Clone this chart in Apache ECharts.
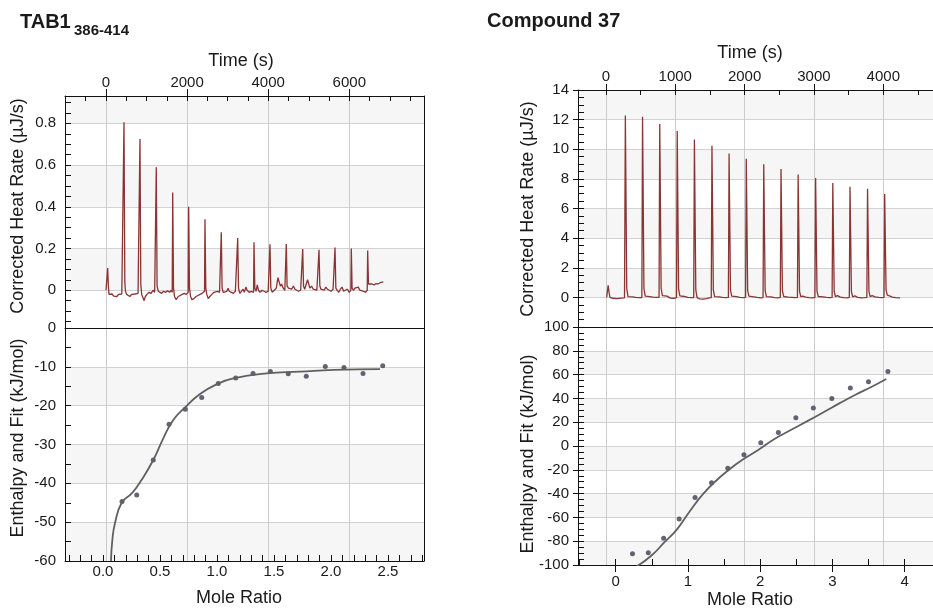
<!DOCTYPE html>
<html>
<head>
<meta charset="utf-8">
<script src="https://cdn.jsdelivr.net/npm/echarts@6/dist/echarts.min.js"></script>
<style>
html, body { margin: 0; padding: 0; background: #fff; }
#chart { width: 933px; height: 608px; }
</style>
</head>
<body>
<div id="chart"></div>
<script>
// thermogram, TAB1 386-414 : [time s, heat rate uJ/s]
var traceL = [
  [0,0.0],[30,0.0],[42,0.106],[58,0.02],[75,-0.02],[110,-0.025],[150,-0.018],[190,-0.028],[230,-0.022],[270,-0.03],[310,-0.02],[350,-0.025],[390,-0.018],[430,-0.015],
  [444,0.805],[464,0.04],[480,-0.005],[510,-0.02],[550,-0.015],[590,-0.03],[630,-0.02],[670,-0.025],[710,-0.018],[750,-0.022],[790,-0.015],[825,-0.01],
  [838,0.725],[858,0.03],[880,-0.02],[910,-0.035],[940,-0.05],[970,-0.03],[1010,-0.02],[1060,-0.01],[1110,-0.015],[1160,0.0],[1200,-0.01],[1228,-0.005],
  [1240,0.59],[1260,0.02],[1290,-0.005],[1330,-0.01],[1370,-0.015],[1420,-0.005],[1470,-0.01],[1520,-0.003],[1570,-0.01],[1610,0.0],[1633,-0.01],
  [1645,0.469],[1665,0.01],[1690,-0.03],[1730,-0.045],[1780,-0.03],[1830,-0.025],[1880,-0.02],[1930,-0.015],[1980,-0.02],[2027,-0.01],
  [2039,0.40],[2059,0.01],[2085,-0.03],[2120,-0.045],[2170,-0.04],[2220,-0.03],[2270,-0.025],[2320,-0.02],[2370,-0.015],[2410,-0.01],[2430,-0.005],
  [2441,0.34],[2461,0.01],[2485,-0.02],[2520,-0.04],[2560,-0.03],[2610,-0.02],[2660,-0.01],[2700,-0.015],[2750,-0.005],[2800,-0.01],[2832,-0.005],
  [2843,0.278],[2863,0.01],[2890,-0.01],[2930,-0.015],[2980,-0.005],[3010,0.01],[3040,-0.005],[3090,-0.01],[3140,-0.015],[3190,-0.005],[3237,-0.01],
  [3248,0.25],[3268,0.01],[3300,-0.015],[3340,-0.005],[3380,0.005],[3410,-0.01],[3450,0.015],[3480,0.0],[3530,-0.01],[3580,-0.005],[3639,-0.01],
  [3650,0.23],[3670,0.01],[3700,-0.005],[3730,0.026],[3760,0.0],[3800,-0.01],[3850,0.0],[3900,-0.005],[3950,-0.01],[4000,-0.005],[4033,0.0],
  [4044,0.22],[4064,0.01],[4100,-0.01],[4150,0.0],[4200,0.01],[4240,0.06],[4270,0.04],[4300,0.02],[4330,0.03],[4370,0.01],[4410,0.0],[4435,0.005],
  [4446,0.222],[4466,0.02],[4500,0.01],[4540,0.015],[4580,0.005],[4620,0.02],[4660,0.005],[4700,0.01],[4750,-0.005],[4800,0.0],[4840,0.005],
  [4851,0.197],[4871,0.02],[4900,0.005],[4930,0.01],[4970,0.05],[5000,0.03],[5030,0.01],[5070,0.02],[5110,0.005],[5150,0.01],[5200,0.0],[5242,0.005],
  [5253,0.194],[5273,0.02],[5300,0.005],[5340,0.01],[5380,0.0],[5420,0.015],[5460,0.005],[5500,0.01],[5550,-0.005],[5600,0.005],[5637,0.0],
  [5648,0.205],[5668,0.01],[5700,0.0],[5740,-0.01],[5780,0.005],[5820,0.015],[5860,-0.005],[5900,0.0],[5950,0.005],[6000,-0.01],[6038,0.0],
  [6049,0.20],[6069,0.01],[6100,0.0],[6140,0.01],[6180,0.005],[6220,0.015],[6260,0.0],[6300,0.005],[6350,-0.005],[6400,-0.01],[6442,0.0],
  [6453,0.19],[6473,0.03],[6510,0.025],[6560,0.03],[6610,0.025],[6660,0.032],[6710,0.03],[6760,0.036],[6800,0.038],[6838,0.04]
];

// thermogram, Compound 37
var traceR = [
  [10,0.0],[24,0.05],[32,0.82],[44,0.35],[58,0.0],[100,-0.06],[160,-0.08],[220,-0.05],[268,-0.03],
  [280,12.28],[300,0.6],[318,0.05],[345,0.12],[380,0.04],[430,0.0],[480,-0.02],[518,-0.01],
  [528,12.2],[548,0.6],[566,0.08],[590,0.15],[630,0.05],[680,0.02],[730,0.0],[766,0.0],
  [776,11.7],[796,0.6],[814,0.12],[840,0.2],[880,0.08],[930,-0.05],[980,-0.06],[1018,-0.02],
  [1028,11.23],[1048,0.55],[1066,0.1],[1090,0.16],[1130,0.06],[1180,0.0],[1230,-0.02],[1266,-0.02],
  [1276,10.65],[1296,0.5],[1314,-0.02],[1350,-0.1],[1400,-0.12],[1450,-0.08],[1490,-0.04],[1519,-0.02],
  [1529,10.24],[1549,0.5],[1567,0.05],[1590,0.1],[1630,0.03],[1680,0.0],[1730,-0.02],[1766,0.0],
  [1776,9.72],[1796,0.5],[1814,0.08],[1840,0.12],[1880,0.05],[1930,0.0],[1980,-0.02],[2014,0.0],
  [2024,9.35],[2044,0.45],[2062,0.08],[2090,0.12],[2130,0.04],[2180,0.0],[2230,-0.03],[2266,-0.01],
  [2276,8.99],[2296,0.45],[2314,0.05],[2340,0.1],[2380,0.03],[2430,-0.02],[2480,-0.03],[2515,0.0],
  [2525,8.67],[2545,0.45],[2563,0.06],[2590,0.1],[2630,0.02],[2680,0.0],[2730,-0.02],[2762,0.0],
  [2772,8.29],[2792,0.4],[2810,0.05],[2840,0.08],[2880,0.02],[2930,-0.02],[2980,-0.03],[3014,0.0],
  [3024,8.06],[3044,0.4],[3062,0.06],[3090,0.1],[3130,0.03],[3180,0.0],[3230,-0.02],[3262,0.0],
  [3272,7.72],[3292,0.4],[3310,0.05],[3340,0.12],[3380,0.02],[3430,-0.02],[3480,-0.03],[3510,0.0],
  [3520,7.47],[3540,0.4],[3558,0.04],[3590,0.1],[3630,0.0],[3680,-0.03],[3730,-0.02],[3763,0.0],
  [3773,7.34],[3793,0.4],[3811,0.05],[3840,0.12],[3880,0.04],[3930,0.0],[3980,-0.02],[4010,0.0],
  [4020,6.98],[4040,0.5],[4058,0.15],[4090,0.1],[4130,0.02],[4180,-0.02],[4240,-0.04]
];

// integrated heats (kJ/mol) vs mole ratio
var ratioL = [0.167, 0.296, 0.441, 0.579, 0.722, 0.866, 1.011, 1.164, 1.316, 1.468, 1.625, 1.783, 1.95, 2.114, 2.281, 2.454];
var heatL  = [-44.7, -43.0, -34.0, -24.8, -20.9, -17.9, -14.3, -12.9, -11.7, -11.2, -11.8, -12.4, -9.9, -10.2, -11.7, -9.7];
var fitL = [[0.07,-60],[0.082,-54.6],[0.105,-50.3],[0.164,-45],[0.252,-42.6],[0.339,-39.1],[0.441,-34],[0.529,-28.4],
  [0.617,-23.7],[0.722,-20.4],[0.851,-17.0],[0.997,-14.5],[1.143,-13.0],[1.436,-11.7],[1.728,-11.25],[2.02,-10.8],[2.43,-10.6]];

var ratioR = [0.233, 0.452, 0.664, 0.879, 1.099, 1.327, 1.552, 1.776, 2.009, 2.252, 2.494, 2.736, 2.992, 3.248, 3.499, 3.768];
var heatR  = [-90.5, -89.7, -77.6, -61.4, -43.2, -30.8, -18.8, -7.3, 2.8, 11.4, 23.8, 31.9, 40.0, 48.7, 54.0, 62.7];
var fitR = [[0.269,-102],[0.493,-92.2],[0.673,-81],[0.852,-69.8],[1.031,-54.4],[1.211,-40.3],[1.39,-29.2],[1.569,-19.9],
  [1.75,-11.8],[1.973,-3.4],[2.198,5.9],[2.423,13.4],[2.646,20.7],[2.871,28.2],[3.096,35.8],[3.319,43.1],[3.544,49.8],[3.746,56.3]];

var FONT = '"Liberation Sans", Arial, sans-serif';
var INK = '#1a1a1a';
var GRIDC = '#cccccc';
var BAND = '#f6f6f6';

function zip(a, b) {
  return a.map(function (v, i) { return [v, b[i]]; });
}

// bare axis, things get switched on per use
function ax(o) {
  var base = {
    type: 'value',
    axisLine: { show: false, onZero: false },
    axisTick: { show: false },
    axisLabel: { show: false },
    splitLine: { show: false },
    splitArea: { show: false }
  };
  return Object.assign(base, o);
}
var line = { show: true, onZero: false, lineStyle: { color: '#111', width: 1 } };
function tick(inside, len) {
  return { show: true, inside: inside, length: len, lineStyle: { color: '#111', width: 1 } };
}
function lab(margin, fmt) {
  var l = { show: true, margin: margin, color: INK, fontSize: 15, fontFamily: FONT,
    showMinLabel: false, showMaxLabel: false };
  if (fmt) l.formatter = fmt;
  return l;
}
function plain(v) { return String(v); }
var vsplit = { show: true, lineStyle: { color: GRIDC, width: 1 } };
var hsplit = { show: true, lineStyle: { color: '#d2d2d2', width: 1 } };

var option = {
  animation: false,
  backgroundColor: '#fff',
  grid: [
    { left: 65, top: 96, width: 359, height: 232 },
    { left: 65, top: 328, width: 359, height: 233 },
    { left: 578, top: 90, width: 365, height: 237 },
    { left: 578, top: 327, width: 365, height: 238 }
  ],
  xAxis: [
    ax({ gridIndex: 0, position: 'top', min: -1011, max: 7842, minInterval: 2000, maxInterval: 2000,
      axisLine: line, axisTick: tick(false, 7), axisLabel: lab(6, plain), splitLine: vsplit }),
    ax({ gridIndex: 0, position: 'top', min: -1011, max: 7842, minInterval: 500, maxInterval: 500,
      axisTick: tick(true, 5) }),
    ax({ gridIndex: 0, position: 'bottom', min: 0, max: 1, axisLine: line }),
    ax({ gridIndex: 1, position: 'bottom', min: -1011, max: 7842, minInterval: 2000, maxInterval: 2000,
      axisLine: line, splitLine: vsplit }),
    ax({ gridIndex: 1, position: 'bottom', min: -0.3333, max: 2.8158, minInterval: 0.5, maxInterval: 0.5,
      axisLabel: lab(3, function (v) { return v.toFixed(1); }) }),
    ax({ gridIndex: 1, position: 'bottom', min: -0.3333, max: 2.8158, minInterval: 0.1, maxInterval: 0.1,
      axisTick: tick(true, 6) }),
    ax({ gridIndex: 2, position: 'top', min: -403, max: 4717, minInterval: 1000, maxInterval: 1000,
      axisLine: line, axisTick: tick(false, 6), axisLabel: lab(6, plain), splitLine: vsplit }),
    ax({ gridIndex: 2, position: 'top', min: -403, max: 4717, minInterval: 500, maxInterval: 500,
      axisTick: tick(true, 5) }),
    ax({ gridIndex: 3, position: 'bottom', min: -403, max: 4717, minInterval: 1000, maxInterval: 1000,
      axisLine: line, splitLine: vsplit }),
    ax({ gridIndex: 3, position: 'top', min: 0, max: 1, axisLine: line }),
    ax({ gridIndex: 3, position: 'bottom', min: -0.521, max: 4.392, minInterval: 1, maxInterval: 1,
      axisTick: tick(false, 7), axisLabel: lab(9, plain) }),
    ax({ gridIndex: 3, position: 'bottom', min: -0.521, max: 4.392, minInterval: 0.5, maxInterval: 0.5,
      axisTick: tick(true, 6) })
  ],
  yAxis: [
    ax({ gridIndex: 0, position: 'left', min: -0.181, max: 0.931, minInterval: 0.2, maxInterval: 0.2,
      axisLine: line, axisLabel: lab(9), splitLine: hsplit,
      splitArea: { show: true, areaStyle: { color: ['#ffffff', BAND] } } }),
    ax({ gridIndex: 0, position: 'left', min: -0.181, max: 0.931, minInterval: 0.05, maxInterval: 0.05,
      axisTick: tick(true, 6) }),
    ax({ gridIndex: 0, position: 'right', min: 0, max: 1, axisLine: line }),
    ax({ gridIndex: 1, position: 'left', min: -60, max: 0, interval: 10,
      axisLine: line, axisLabel: Object.assign(lab(9), { showMinLabel: true, showMaxLabel: true }),
      splitLine: hsplit, splitArea: { show: true, areaStyle: { color: [BAND, '#ffffff'] } } }),
    ax({ gridIndex: 1, position: 'left', min: -60, max: 0, interval: 5, axisTick: tick(true, 6) }),
    ax({ gridIndex: 1, position: 'right', min: 0, max: 1, axisLine: line }),
    ax({ gridIndex: 2, position: 'left', min: -2, max: 14, interval: 2,
      axisLine: line, axisTick: tick(false, 5), axisLabel: Object.assign(lab(9), { showMaxLabel: true }),
      splitLine: hsplit, splitArea: { show: true, areaStyle: { color: ['#ffffff', BAND] } } }),
    ax({ gridIndex: 2, position: 'left', min: -2, max: 14, interval: 0.5, axisTick: tick(true, 6) }),
    ax({ gridIndex: 3, position: 'left', min: -100, max: 100, interval: 20,
      axisLine: line, axisTick: tick(false, 5),
      axisLabel: Object.assign(lab(9), { showMinLabel: true, showMaxLabel: true }),
      splitLine: hsplit, splitArea: { show: true, areaStyle: { color: [BAND, '#ffffff'] } } }),
    ax({ gridIndex: 3, position: 'left', min: -100, max: 100, interval: 5, axisTick: tick(true, 6) })
  ],
  series: [
    { type: 'line', xAxisIndex: 0, yAxisIndex: 0, data: traceL, showSymbol: false,
      lineStyle: { color: '#8a3434', width: 1.3 } },
    { type: 'line', xAxisIndex: 4, yAxisIndex: 3, data: fitL, showSymbol: false, smooth: true,
      lineStyle: { color: '#606060', width: 1.8 } },
    { type: 'scatter', xAxisIndex: 4, yAxisIndex: 3, data: zip(ratioL, heatL), symbolSize: 5,
      itemStyle: { color: '#3a3f52' } },
    { type: 'line', xAxisIndex: 6, yAxisIndex: 6, data: traceR, showSymbol: false,
      lineStyle: { color: '#8a3434', width: 1.3 } },
    { type: 'line', xAxisIndex: 10, yAxisIndex: 8, data: fitR, showSymbol: false, smooth: true,
      lineStyle: { color: '#606060', width: 1.8 } },
    { type: 'scatter', xAxisIndex: 10, yAxisIndex: 8, data: zip(ratioR, heatR), symbolSize: 5,
      itemStyle: { color: '#3a3f52' } }
  ],
  graphic: [
    { type: 'text', left: 20, top: 12, style: { text: 'TAB1', font: 'bold 20px ' + FONT, fill: INK } },
    { type: 'text', left: 74, top: 23, style: { text: '386-414', font: 'bold 15px ' + FONT, fill: INK } },
    { type: 'text', left: 487, top: 11, style: { text: 'Compound 37', font: 'bold 20px ' + FONT, fill: INK } },
    { type: 'text', x: 241, y: 61, style: { text: 'Time (s)', font: '18px ' + FONT, fill: INK,
      textAlign: 'center', textVerticalAlign: 'middle' } },
    { type: 'text', x: 750, y: 53, style: { text: 'Time (s)', font: '18px ' + FONT, fill: INK,
      textAlign: 'center', textVerticalAlign: 'middle' } },
    { type: 'text', x: 239, y: 598, style: { text: 'Mole Ratio', font: '18px ' + FONT, fill: INK,
      textAlign: 'center', textVerticalAlign: 'middle' } },
    { type: 'text', x: 750, y: 600, style: { text: 'Mole Ratio', font: '18px ' + FONT, fill: INK,
      textAlign: 'center', textVerticalAlign: 'middle' } },
    { type: 'text', x: 18, y: 206, rotation: Math.PI / 2, style: { text: 'Corrected Heat Rate (µJ/s)',
      font: '18px ' + FONT, fill: INK, textAlign: 'center', textVerticalAlign: 'middle' } },
    { type: 'text', x: 18, y: 438, rotation: Math.PI / 2, style: { text: 'Enthalpy and Fit (kJ/mol)',
      font: '18px ' + FONT, fill: INK, textAlign: 'center', textVerticalAlign: 'middle' } },
    { type: 'text', x: 528, y: 209, rotation: Math.PI / 2, style: { text: 'Corrected Heat Rate (µJ/s)',
      font: '18px ' + FONT, fill: INK, textAlign: 'center', textVerticalAlign: 'middle' } },
    { type: 'text', x: 528, y: 454, rotation: Math.PI / 2, style: { text: 'Enthalpy and Fit (kJ/mol)',
      font: '18px ' + FONT, fill: INK, textAlign: 'center', textVerticalAlign: 'middle' } }
  ]
};

var chart = echarts.init(document.getElementById('chart'));
chart.setOption(option);
</script>
</body>
</html>
